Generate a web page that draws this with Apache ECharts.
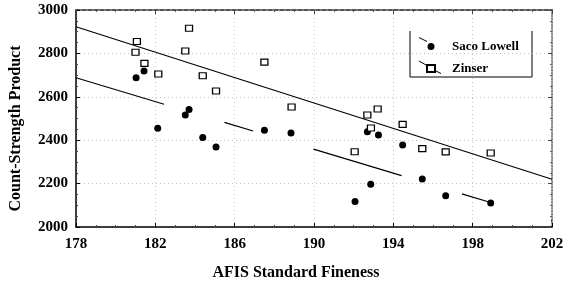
<!DOCTYPE html>
<html><head><meta charset="utf-8">
<script src="https://cdn.jsdelivr.net/npm/echarts@6/dist/echarts.min.js"></script>
<style>html,body{margin:0;padding:0;background:#fff;}#c{width:573px;height:286px;}</style>
</head><body><div id="c"></div>
<script>
// Data
const sacoX = [181.03, 181.43, 182.12, 183.7, 183.51, 184.39, 185.06, 187.5, 188.84, 192.69, 193.25, 192.86, 192.07, 194.47, 195.46, 196.64, 198.91];
const sacoY = [2688, 2719, 2455, 2542, 2516, 2412, 2369, 2446, 2433, 2439, 2424, 2197, 2117, 2378, 2221, 2144, 2111];
const zinX = [181.07, 181.0, 181.45, 182.15, 183.7, 183.51, 184.39, 185.06, 187.5, 188.87, 192.69, 192.87, 193.21, 192.05, 194.47, 195.46, 196.64, 198.91];
const zinY = [2855, 2805, 2754, 2705, 2916, 2811, 2697, 2627, 2760, 2553, 2516, 2456, 2544, 2347, 2473, 2361, 2346, 2341];
const sacoFitX = [178, 202];
const sacoFitY = [2688, 2028];
const zinFitX = [178, 202];
const zinFitY = [2923, 2220];
const xTicks = [178, 182, 186, 190, 194, 198, 202];
const yTicks = [2000, 2200, 2400, 2600, 2800, 3000];

const zip = (a, b) => a.map((v, i) => [v, b[i]]);
const font = 'Liberation Serif';
const plain = v => String(v);
const chart = echarts.init(document.getElementById('c'));
chart.setOption({
  animation: false,
  grid: { left: 76, right: 21, top: 10, bottom: 59 },
  xAxis: [{
    type: 'value', min: xTicks[0], max: xTicks[xTicks.length - 1], interval: 4,
    position: 'bottom',
    axisLine: { show: true, lineStyle: { color: '#000', width: 1.5 } },
    axisTick: { show: true, inside: true, length: 4, lineStyle: { color: '#000' } },
    minorTick: { show: true, splitNumber: 4, length: 2, lineStyle: { color: '#444' } },
    axisLabel: { fontFamily: font, fontWeight: 'bold', fontSize: 15, color: '#000', margin: 10, formatter: plain },
    splitLine: { show: true, lineStyle: { color: '#c4c4c4', type: [1, 3], width: 1 } },
    name: 'AFIS Standard Fineness', nameLocation: 'middle', nameGap: 38,
    nameTextStyle: { fontFamily: font, fontWeight: 'bold', fontSize: 16, color: '#000', padding: [0, 36, 0, 0] }
  }, {
    type: 'value', min: xTicks[0], max: xTicks[xTicks.length - 1], interval: 4,
    position: 'top',
    axisLine: { show: true, lineStyle: { color: '#555', width: 2, type: [4, 2] } },
    axisTick: { show: true, inside: true, length: 4, lineStyle: { color: '#444' } },
    minorTick: { show: true, splitNumber: 4, length: 2, lineStyle: { color: '#555' } },
    axisLabel: { show: false }, splitLine: { show: false }
  }],
  yAxis: [{
    type: 'value', min: yTicks[0], max: yTicks[yTicks.length - 1], interval: 200,
    position: 'left',
    axisLine: { show: true, lineStyle: { color: '#000', width: 1.5 } },
    axisTick: { show: true, inside: true, length: 4, lineStyle: { color: '#000' } },
    minorTick: { show: true, splitNumber: 4, length: 2, lineStyle: { color: '#444' } },
    axisLabel: { fontFamily: font, fontWeight: 'bold', fontSize: 15, color: '#000', margin: 8, formatter: plain },
    splitLine: { show: true, lineStyle: { color: '#c4c4c4', type: [1, 3], width: 1 } },
    name: 'Count-Strength Product', nameLocation: 'middle', nameGap: 52, nameRotate: 90,
    nameTextStyle: { fontFamily: font, fontWeight: 'bold', fontSize: 16, color: '#000', padding: [0, 20, 0, 0] }
  }, {
    type: 'value', min: yTicks[0], max: yTicks[yTicks.length - 1], interval: 200,
    position: 'right',
    axisLine: { show: true, lineStyle: { color: '#666', width: 1.5, type: 'dotted' } },
    axisTick: { show: true, inside: true, length: 4, lineStyle: { color: '#444' } },
    minorTick: { show: true, splitNumber: 4, length: 2, lineStyle: { color: '#666' } },
    axisLabel: { show: false }, splitLine: { show: false }
  }],
  legend: {
    orient: 'vertical', left: 421, top: 35, itemWidth: 8, itemHeight: 7, itemGap: 9,
    data: [{ name: 'Saco Lowell', icon: 'circle' }, { name: 'Zinser', icon: 'rect' }],
    textStyle: { fontFamily: font, fontWeight: 'bold', fontSize: 13, color: '#000', padding: [0, 0, 0, 12] }
  },
  graphic: [
    { type: 'polyline', shape: { points: [[410, 31], [410, 77], [532, 77], [532, 31]] }, style: { stroke: '#000', fill: null, lineWidth: 1 }, silent: true },
    { type: 'line', shape: { x1: 419, y1: 37.5, x2: 427, y2: 41.5 }, style: { stroke: '#000', lineWidth: 1 } },
    { type: 'line', shape: { x1: 419, y1: 61, x2: 426, y2: 65 }, style: { stroke: '#000', lineWidth: 1 } },
    { type: 'line', shape: { x1: 434, y1: 70, x2: 441, y2: 73.5 }, style: { stroke: '#000', lineWidth: 1 } }
  ],
  series: [
    { name: 'Saco Lowell', type: 'scatter', data: zip(sacoX, sacoY), symbol: 'circle', symbolSize: 7,
      itemStyle: { color: '#000', opacity: 1 }, z: 3 },
    { name: 'Zinser', type: 'scatter', data: zip(zinX, zinY), symbol: 'rect', symbolSize: [7, 6],
      itemStyle: { color: '#fff', borderColor: '#000', borderWidth: 1.2, opacity: 1 }, z: 4 },
    { name: 'Saco fit', type: 'line', data: zip(sacoFitX, sacoFitY), symbol: 'none',
      lineStyle: { color: '#000', width: 1.2, type: [92, 63, 30, 63] }, z: 2 },
    { name: 'Zinser fit', type: 'line', data: zip(zinFitX, zinFitY), symbol: 'none',
      lineStyle: { color: '#000', width: 1.2 }, z: 2 }
  ]
});
</script></body></html>
